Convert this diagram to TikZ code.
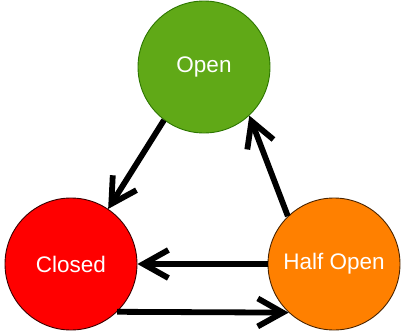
\documentclass[tikz,border=0pt]{standalone}
\usepackage{fontspec}
\setmainfont{Liberation Sans}
\usetikzlibrary{arrows.meta}
\definecolor{openfill}{HTML}{60A917}
\definecolor{opendraw}{HTML}{2D7600}
\definecolor{closedfill}{HTML}{FF0000}
\definecolor{closeddraw}{HTML}{3A0000}
\definecolor{halffill}{HTML}{FF8000}
\definecolor{halfdraw}{HTML}{4A2400}
\begin{document}
\begin{tikzpicture}[x=1pt,y=-1pt,
  state/.style={circle,minimum size=132pt,inner sep=0pt,line width=0.9pt,
    text=white,font=\fontsize{22.5}{26}\selectfont},
  trans/.style={line width=5.8pt,
    -{Straight Barb[length=25pt,width=28pt]}}]
\useasboundingbox (0,0) rectangle (401,332);
\node[state,fill=openfill,draw=opendraw] (open) at (204,67) {Open};
\node[state,fill=closedfill,draw=closeddraw] (closed) at (71,264) {Closed};
\node[state,fill=halffill,draw=halfdraw] (half) at (334,264) {Half Open};
\draw[trans] (open.-127) -- (closed.56);
\draw[trans] (half.134) -- (open.-47);
\draw[trans] (half.west) -- (closed.east);
\draw[trans] (closed.-46.7) -- (half.-133.3);
\end{tikzpicture}
\end{document}
